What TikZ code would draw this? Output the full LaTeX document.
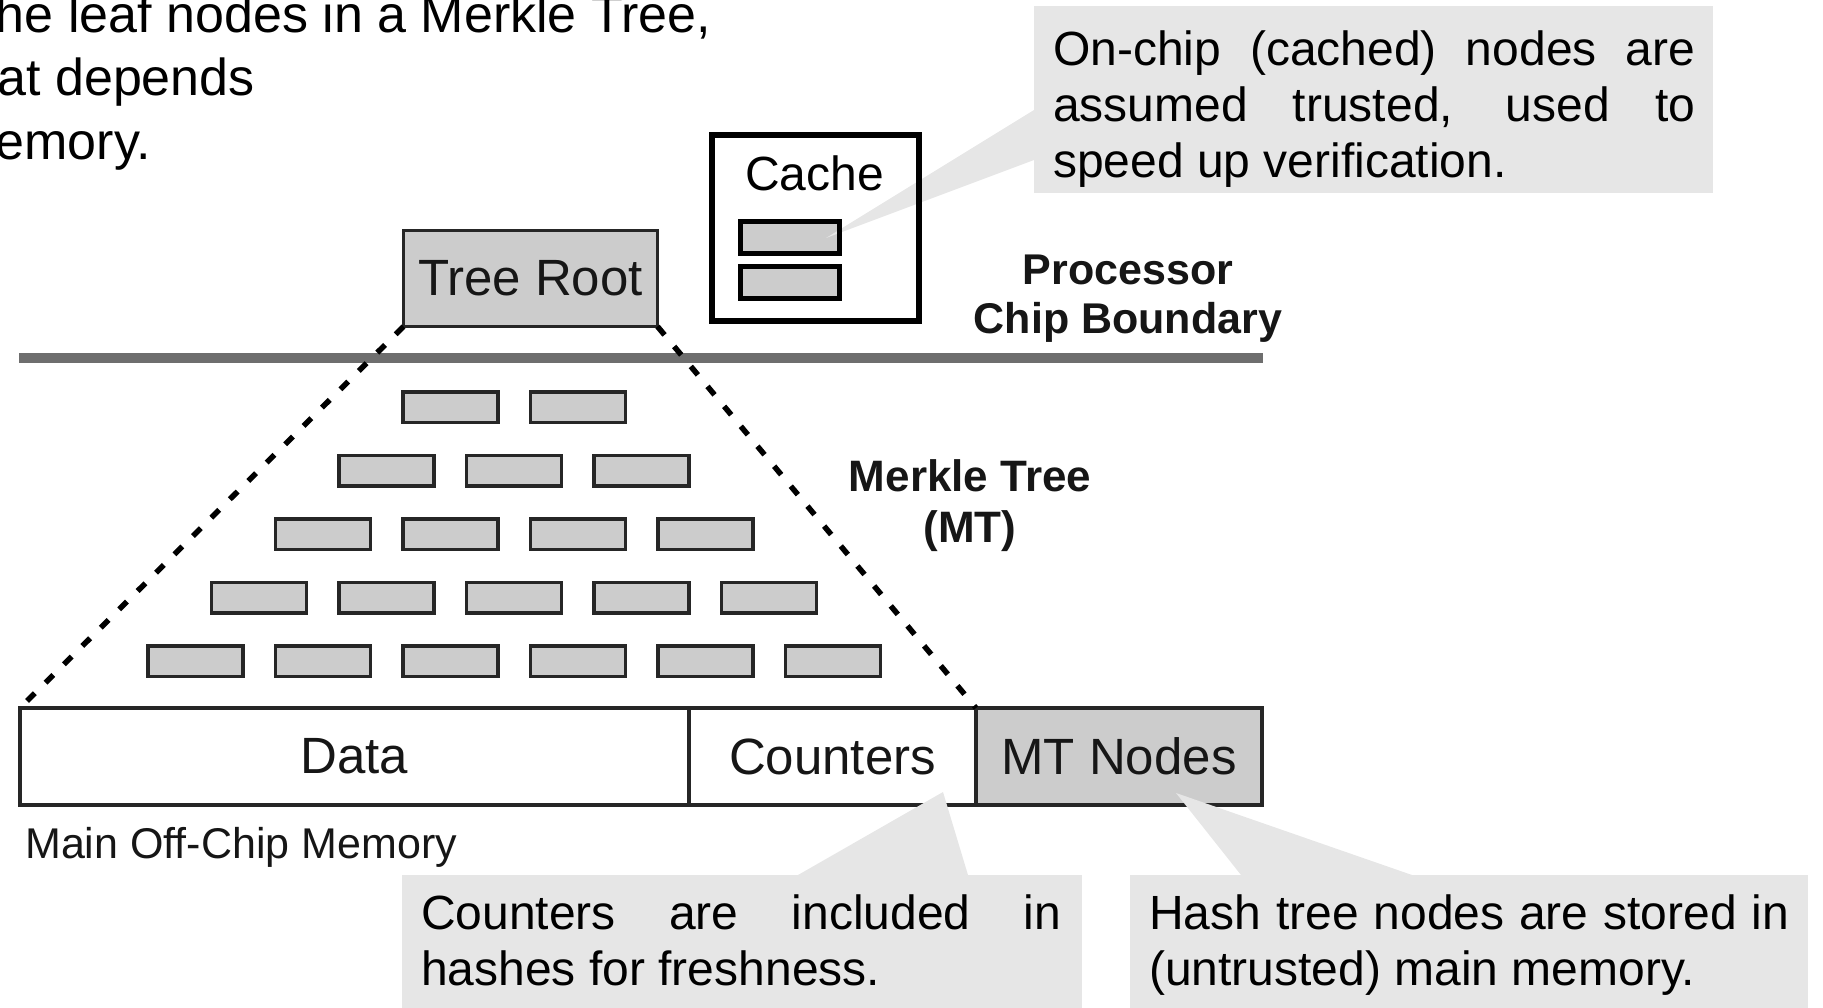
\documentclass[tikz,border=0pt]{standalone}
\usepackage{fontspec}
\setmainfont{Liberation Sans}
\definecolor{boxgray}{RGB}{204,204,204}
\definecolor{notegray}{RGB}{230,230,230}
\definecolor{linegray}{RGB}{110,110,110}
\definecolor{inkdark}{RGB}{22,22,22}
\begin{document}
\begin{tikzpicture}[x=1pt,y=-1pt,
  cell/.style={draw=black!85, line width=3.5pt, fill=boxgray, minimum width=95pt,
    minimum height=30.5pt, inner sep=0pt, outer sep=0pt},
  memcell/.style={draw=black!85, line width=4pt, minimum height=97pt, inner sep=0pt,
    outer sep=0pt, text=inkdark, font=\fontsize{51}{60}\selectfont},
  note/.style={fill=notegray, inner sep=0pt, outer sep=0pt},
  notetext/.style={anchor=base west, inner sep=0pt, font=\fontsize{48}{56}\selectfont},
  boldlabel/.style={inner sep=0pt, anchor=base, text=inkdark, font=\bfseries\fontsize{43}{49}\selectfont},
  plaintext/.style={inner sep=0pt, font=\fontsize{52}{63}\selectfont},
  treeedge/.style={line width=5.5pt, dash pattern=on 11pt off 15pt},
  cachecell/.style={line width=5pt, minimum width=99pt, minimum height=32pt, inner sep=0pt, outer sep=0pt},
]
\useasboundingbox (0,0) rectangle (1823,1007);
\clip (0,0) rectangle (1823,1007);

% paragraph fragment at the top left
\node[plaintext, anchor=base east] (p1) at (711,32) {he leaf nodes in a Merkle Tree,};
\node[plaintext, anchor=base east] (p2) at (255,95) {at depends};
\node[plaintext, anchor=base east] (p3) at (151,159) {emory.};

% chip boundary
\draw[linegray, line width=10pt] (19,358) -- (1263,358);
\node[boldlabel] (proc1) at (1128,284) {Processor};
\node[boldlabel] (proc2) at (1128,333) {Chip Boundary};

% tree root on chip
\node[cell, line width=3.5pt, minimum width=254pt, minimum height=96pt, text=inkdark,
  font=\fontsize{51}{60}\selectfont] (root) at (530.5,278.5) {Tree Root};

% main memory regions
\node[memcell, minimum width=669pt] (data) at (354.5,756.5) {Data};
\node[memcell, minimum width=287pt] (ctr) at (832.5,756.5) {Counters};
\node[memcell, minimum width=286pt, fill=boxgray] (mtn) at (1119,756.5) {MT Nodes};
\node[inner sep=0pt, anchor=base west, text=inkdark, font=\fontsize{43}{50}\selectfont]
  (mem) at (25,858) {Main Off-Chip Memory};

% Merkle tree levels
\foreach \k in {1,...,5}{
  \foreach \i in {0,...,\k}{
    \node[cell] (m-\k-\i) at ({514+127.5*(\i-\k/2)},{407+63.5*(\k-1)}) {};
  }
}
\node[boldlabel, font=\bfseries\fontsize{44}{51}\selectfont] (mt1) at (970,491) {Merkle Tree};
\node[boldlabel, font=\bfseries\fontsize{44}{51}\selectfont] (mt2) at (970,542) {(MT)};

% outline of the tree
\draw[treeedge] (root.south west) -- (data.north west);
\draw[treeedge] (root.south east) -- (ctr.north east);

% on-chip cache
\node[cachecell, fill=boxgray] (c1) at (790,237.5) {};
\node[cachecell, fill=boxgray] (c2) at (790,282.5) {};

% note on cached nodes
\node[note, minimum width=679pt, minimum height=187pt] (n1) at (1373.5,99.5) {};
\coordinate (n1a) at (1034,110);
\coordinate (n1b) at (1034,160);
\coordinate (n1tip) at (826,238);
\fill[notegray] (n1a) -- (n1tip) -- (n1b) -- cycle;
\node[notetext] (t1) at (1053,65) {\parbox[t]{642pt}{\fontsize{48}{56}\selectfont
  \makebox[642pt][s]{On-chip (cached) nodes are}\\
  \makebox[642pt][s]{assumed trusted, used to}\\
  speed up verification.}};

\draw[line width=5pt] (c1.north west) rectangle (c1.south east);
\draw[line width=5pt] (c2.north west) rectangle (c2.south east);
\node[draw, line width=6pt, minimum width=207pt, minimum height=186pt, inner sep=0pt,
  outer sep=0pt] (cache) at (815.5,228) {};
\node[inner sep=0pt, anchor=base, font=\fontsize{48}{56}\selectfont] (cachelbl) at (814.5,190) {Cache};

% note on counters
\node[note, minimum width=680pt, minimum height=135pt] (n2) at (742,942.5) {};
\coordinate (n2a) at (798,875);
\coordinate (n2b) at (968,875);
\coordinate (n2tip) at (943,792);
\fill[notegray] (n2a) -- (n2tip) -- (n2b) -- cycle;
\node[notetext] (t2) at (421,929) {\parbox[t]{640pt}{\fontsize{48}{56}\selectfont
  \makebox[640pt][s]{Counters are included in}\\
  hashes for freshness.}};

% note on hash tree nodes
\node[note, minimum width=678pt, minimum height=135pt] (n3) at (1469,942.5) {};
\coordinate (n3a) at (1241,875);
\coordinate (n3b) at (1412,875);
\coordinate (n3tip) at (1176,793);
\fill[notegray] (n3a) -- (n3tip) -- (n3b) -- cycle;
\node[notetext] (t3) at (1149,929) {\parbox[t]{640pt}{\fontsize{48}{56}\selectfont
  \makebox[640pt][s]{Hash tree nodes are stored in}\\
  (untrusted) main memory.}};
\end{tikzpicture}
\end{document}
